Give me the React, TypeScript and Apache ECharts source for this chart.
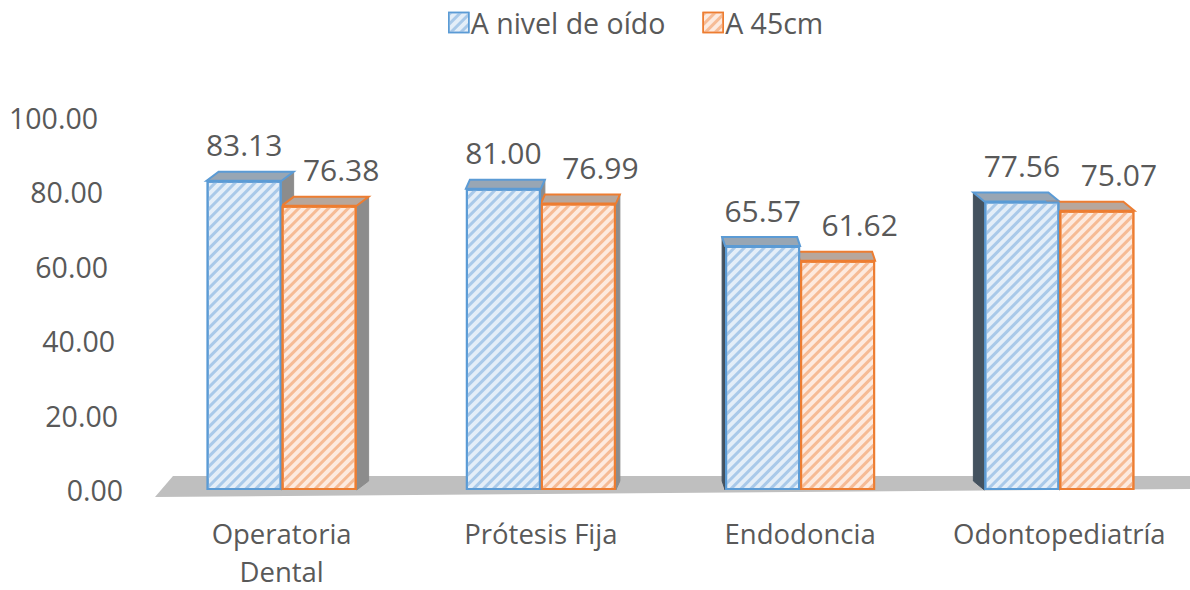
import React, { useEffect, useRef } from "react";
import * as echarts from "echarts";

const categories = ["Operatoria\nDental", "Prótesis Fija", "Endodoncia", "Odontopediatría"];
const seriesNames = ["A nivel de oído", "A 45cm"];
const oidoValues = [83.13, 81.0, 65.57, 77.56];
const cm45Values = [76.38, 76.99, 61.62, 75.07];
const yTicks = [0, 20, 40, 60, 80, 100];

// decorative 3D depth per category (perspective imitation)
const DEPTH_DX = [12, 4, -3, -11];
const DEPTH_DY = -9;
const BAR_W = 75;
const TEXT = "#595959";
const FONT = "Open Sans";

const COLORS = [
  { border: "#5b9bd5", fill: "#e4eef8", stripe: "#a9c9e9", top: "#98a6b4" },
  { border: "#ed7d31", fill: "#fdeadf", stripe: "#f6bb95", top: "#b7a79c" },
];

const labelPad: Record<number, number> = { 0: 0, 20: 5, 40: 8, 60: 15, 80: 20, 100: 25 };

function makeRender(si: number, kind: "side" | "top") {
  return (params: any, api: any) => {
    const ci = api.value(0) as number;
    const v = api.value(1) as number;
    const t = api.coord([ci, v]);
    const b = api.coord([ci, 0]);
    const x0 = t[0] + (si - 1) * BAR_W;
    const x1 = x0 + BAR_W;
    const yt = t[1];
    const yb = b[1];
    const dx = DEPTH_DX[ci];
    const dy = DEPTH_DY;
    if (kind === "side") {
      const xs = dx > 0 ? x1 : x0;
      return {
        type: "polygon",
        shape: { points: [[xs, yt], [xs + dx, yt + dy], [xs + dx, yb + dy], [xs, yb]] },
        style: { fill: dx > 0 ? "#8c8c8c" : "#44525f", stroke: dx > 0 ? "#8c8c8c" : "#44525f", lineWidth: 1 },
      };
    }
    return {
      type: "polygon",
      shape: { points: [[x0, yt], [x1, yt], [x1 + dx, yt + dy], [x0 + dx, yt + dy]] },
      style: { fill: COLORS[si].top, stroke: COLORS[si].border, lineWidth: 2 },
    };
  };
}

export default function App() {
  const ref = useRef<HTMLDivElement>(null);
  useEffect(() => {
    if (!ref.current) return;
    const chart = echarts.init(ref.current, null, { renderer: "svg" });
    const valueSets = [oidoValues, cm45Values];
    const rich: any = {};
    yTicks.forEach((v) => {
      rich["p" + v] = { padding: [0, labelPad[v], 0, 0], fontSize: 28.5, color: TEXT, fontFamily: FONT };
    });
    const decal = (c: string) => ({
      symbol: "rect",
      symbolSize: 1,
      color: c,
      dashArrayX: [1, 0],
      dashArrayY: [3, 4],
      rotation: -Math.PI / 4,
    });
    const series: any[] = [];
    valueSets.forEach((vals, si) => {
      series.push({
        type: "custom",
        name: "side" + si,
        z: 3,
        silent: true,
        renderItem: makeRender(si, "side"),
        data: vals.map((v, i) => [i, v]),
      });
    });
    valueSets.forEach((vals, si) => {
      series.push({
        type: "custom",
        name: "top" + si,
        z: 4,
        silent: true,
        renderItem: makeRender(si, "top"),
        data: vals.map((v, i) => [i, v]),
      });
    });
    valueSets.forEach((vals, si) => {
      series.push({
        type: "bar",
        name: seriesNames[si],
        z: 5,
        barWidth: BAR_W,
        barGap: "0%",
        data: vals,
        itemStyle: {
          color: COLORS[si].fill,
          borderColor: COLORS[si].border,
          borderWidth: 2,
          decal: decal(COLORS[si].stripe),
        },
        label: {
          show: true,
          position: "top",
          distance: 21,
          offset: [si === 0 ? 0 : 22, 0],
          formatter: (p: any) => (p.value as number).toFixed(2),
          fontSize: 30,
          color: TEXT,
          fontFamily: FONT,
        },
      });
    });
    chart.setOption({
      animation: false,
      aria: { enabled: false },
      legend: {
        data: seriesNames.map((n, i) => ({ name: n, itemStyle: { color: COLORS[i].fill, borderColor: COLORS[i].border, borderWidth: 1.5, decal: decal(COLORS[i].stripe) } })),
        top: 3,
        left: 443,
        itemWidth: 20,
        itemHeight: 20,
        itemGap: 37,
        icon: "rect",
        textStyle: { fontSize: 28.5, color: TEXT, fontFamily: FONT, padding: [0, 0, 0, -3] },
      },
      graphic: [
        {
          type: "polygon",
          z: -10,
          silent: true,
          shape: { points: [[173, 476], [1190, 476], [1190, 489], [155, 497]] },
          style: { fill: "#bfbfbf" },
        },
      ],
      grid: { left: 152, right: 1, top: 118, bottom: 91, containLabel: false },
      xAxis: {
        type: "category",
        data: categories,
        axisLine: { show: false },
        axisTick: { show: false },
        axisLabel: { fontSize: 27.5, color: TEXT, fontFamily: FONT, margin: 24, lineHeight: 38, interval: 0 },
      },
      yAxis: {
        type: "value",
        min: 0,
        max: 100,
        interval: 20,
        splitLine: { show: false },
        axisLine: { show: false },
        axisTick: { show: false },
        axisLabel: {
          margin: 29,
          formatter: (v: number) => `{p${v}|${v.toFixed(2)}}`,
          rich,
        },
      },
      series,
    });
    return () => chart.dispose();
  }, []);
  return <div ref={ref} style={{ position: "fixed", left: 0, top: 0, width: 1190, height: 590, background: "#fff" }} />;
}
